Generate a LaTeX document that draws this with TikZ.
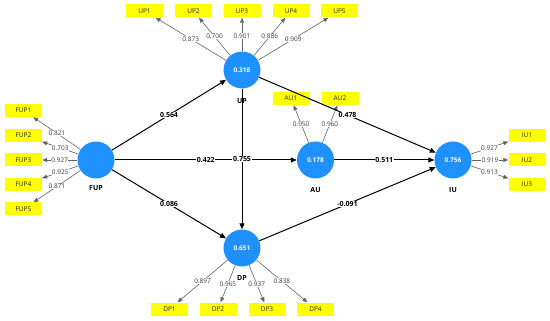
\documentclass[tikz,border=0pt]{standalone}
\usepackage{fontspec}
\setmainfont{Open Sans}
\usetikzlibrary{arrows.meta}
\definecolor{lvblue}{RGB}{30,144,255}
\definecolor{indyellow}{RGB}{255,255,0}
\definecolor{loadgray}{RGB}{100,100,100}
\definecolor{loadtext}{RGB}{60,60,60}
\begin{document}
\begin{tikzpicture}[x=1pt,y=-1pt,
  lv/.style={circle, fill=lvblue, minimum size=37pt, inner sep=0pt, text=white,
    font=\fontsize{6.5}{7}\selectfont\bfseries},
  ind/.style={rectangle, fill=indyellow, minimum width=37pt, minimum height=13pt,
    inner sep=0pt, text=black!85, font=\fontsize{6.5}{7}\selectfont},
  lvname/.style={font=\fontsize{7}{8}\selectfont\bfseries},
  pathar/.style={draw=black, line width=1pt, -{Triangle[length=6pt,width=5pt]}},
  loadar/.style={draw=loadgray, line width=0.6pt, -{Triangle[length=5pt,width=4pt]}},
  plab/.style={fill=white, inner sep=0.6pt, font=\fontsize{7}{8}\selectfont\bfseries},
  llab/.style={fill=white, inner sep=0.4pt, text=loadtext, font=\fontsize{6.5}{7}\selectfont},
]
\useasboundingbox[fill=white] (0,0) rectangle (550,321);

% latent variables
\node[lv] (FUP) at (96,160) {};
\node[lv] (UP) at (242,70) {0.318};
\node[lv] (DP) at (242,248) {0.651};
\node[lv] (AU) at (315.5,160) {0.178};
\node[lv] (IU) at (453,160) {0.756};

\node[lvname] (FUPn) at (96,188) {FUP};
\node[lvname] (UPn) at (242,101) {UP};
\node[lvname] (DPn) at (242,278) {DP};
\node[lvname] (AUn) at (315.5,190) {AU};
\node[lvname] (IUn) at (453,190) {IU};

% indicators
\node[ind] (FUP1) at (23.5,110.5) {FUP1};
\node[ind] (FUP2) at (23.5,135.5) {FUP2};
\node[ind] (FUP3) at (23.5,160) {FUP3};
\node[ind] (FUP4) at (23.5,184.5) {FUP4};
\node[ind] (FUP5) at (23.5,209) {FUP5};

\node[ind] (UP1) at (144.5,11) {UP1};
\node[ind] (UP2) at (193.5,11) {UP2};
\node[ind] (UP3) at (242,11) {UP3};
\node[ind] (UP4) at (291,11) {UP4};
\node[ind] (UP5) at (339.5,11) {UP5};

\node[ind] (AU1) at (291,98.5) {AU1};
\node[ind] (AU2) at (340,98.5) {AU2};

\node[ind] (IU1) at (527,135.5) {IU1};
\node[ind] (IU2) at (527,160) {IU2};
\node[ind] (IU3) at (527,184.5) {IU3};

\node[ind] (DP1) at (169.5,309) {DP1};
\node[ind] (DP2) at (218,309) {DP2};
\node[ind] (DP3) at (267,309) {DP3};
\node[ind] (DP4) at (315.5,309) {DP4};

% loadings
\draw[loadar] (FUP) -- node[llab] {0.821} (FUP1);
\draw[loadar] (FUP) -- node[llab] {0.703} (FUP2);
\draw[loadar] (FUP) -- node[llab] {0.927} (FUP3);
\draw[loadar] (FUP) -- node[llab] {0.925} (FUP4);
\draw[loadar] (FUP) -- node[llab] {0.871} (FUP5);

\draw[loadar] (UP) -- node[llab] {0.873} (UP1);
\draw[loadar] (UP) -- node[llab] {0.700} (UP2);
\draw[loadar] (UP) -- node[llab, pos=0.45] {0.901} (UP3);
\draw[loadar] (UP) -- node[llab] {0.886} (UP4);
\draw[loadar] (UP) -- node[llab] {0.909} (UP5);

\draw[loadar] (AU) -- node[llab] {0.950} (AU1);
\draw[loadar] (AU) -- node[llab] {0.960} (AU2);

\draw[loadar] (IU) -- node[llab] {0.927} (IU1);
\draw[loadar] (IU) -- node[llab] {0.919} (IU2);
\draw[loadar] (IU) -- node[llab] {0.913} (IU3);

\draw[loadar] (DP) -- node[llab] {0.897} (DP1);
\draw[loadar] (DP) -- node[llab] {0.965} (DP2);
\draw[loadar] (DP) -- node[llab] {0.937} (DP3);
\draw[loadar] (DP) -- node[llab] {0.838} (DP4);

% structural paths
\draw[pathar] (FUP) -- node[plab] {0.564} (UP);
\draw[pathar] (FUP) -- node[plab] {0.422} (AU);
\draw[pathar] (FUP) -- node[plab] {0.086} (DP);
\draw[pathar] (UP) -- node[plab] {0.755} (DP);
\draw[pathar] (UP) -- node[plab] {0.478} (IU);
\draw[pathar] (AU) -- node[plab] {0.511} (IU);
\draw[pathar] (DP) -- node[plab] {-0.091} (IU);
\end{tikzpicture}
\end{document}
